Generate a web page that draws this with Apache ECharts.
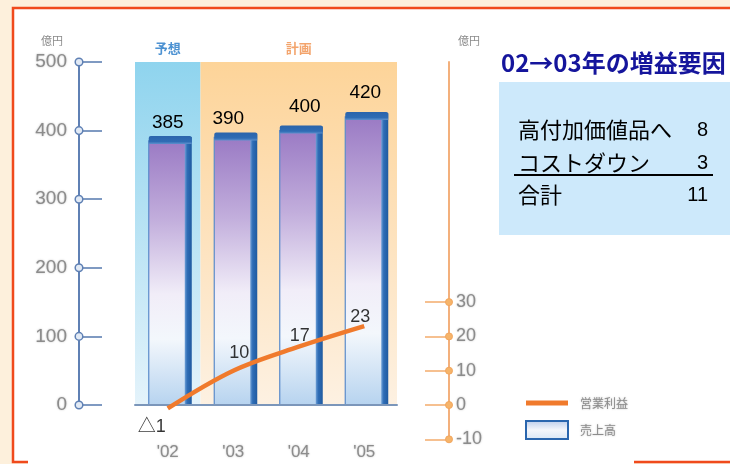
<!DOCTYPE html>
<html>
<head>
<meta charset="utf-8">
<script src="https://cdn.jsdelivr.net/npm/echarts@6/dist/echarts.min.js"></script>
<style>
  html, body { margin: 0; padding: 0; background: #fdf0dc; }
  #main { width: 730px; height: 464px; }
</style>
</head>
<body>
<div id="main"></div>
<script>
// Fiscal years on the category axis
const years = ["'02", "'03", "'04", "'05"];
// 売上高 (億円), left axis
const sales = [385, 390, 400, 420];
// 営業利益 (億円), right axis
const profit = [-1, 10, 17, 23];
// Tick values of both value axes
const salesTicks = [0, 100, 200, 300, 400, 500];
const profitTicks = [-10, 0, 10, 20, 30];
// Forecast / plan bands over the categories
const phases = [
  { name: '予想', from: 0, to: 0 },
  { name: '計画', from: 1, to: 3 }
];
// Breakdown of the 02→03 profit increase
const factorTitle = '02→03年の増益要因';
const factorNames = ['高付加価値品へ', 'コストダウン'];
const factorValues = [8, 3];
const totalName = '合計';
const totalValue = 11;

// Label nudges (style only)
const salesLabelShift = [[0, 0], [-5, 0], [6, -5], [1, -6]];
const profitLabelPos = [
  { position: 'bottom', offset: [-16, 5] },
  { position: 'top', offset: [6, -4] },
  { position: 'top', offset: [1, 3] },
  { position: 'top', offset: [-4, 5] }
];

const FONT = "'Liberation Sans', 'Noto Sans CJK JP', sans-serif";
const CJK = "'Noto Sans CJK JP', sans-serif";
const softGrey = { color: '#8c8c8c', textShadowColor: 'rgba(140,140,140,0.6)', textShadowBlur: 2 };
const ORANGE = '#f07a2c';
const DARK_BLUE = '#2a66ae';

const chart = echarts.init(document.getElementById('main'), null, { renderer: 'canvas' });

const barFill = new echarts.graphic.LinearGradient(0, 0, 0, 1, [
  { offset: 0, color: '#9a7ac4' },
  { offset: 0.3, color: '#c2aedc' },
  { offset: 0.58, color: '#f1edf8' },
  { offset: 0.75, color: '#f3f7fc' },
  { offset: 1, color: '#b6d3ef' }
]);
const edgeFill = new echarts.graphic.LinearGradient(0, 0, 1, 0, [
  { offset: 0, color: '#6d9fd6' },
  { offset: 0.35, color: '#2f6db6' },
  { offset: 1, color: '#1f5aa0' }
]);
const capFill = new echarts.graphic.LinearGradient(0, 0, 0, 1, [
  { offset: 0, color: '#2b64ab' },
  { offset: 0.7, color: '#2f6cb4' },
  { offset: 1, color: '#5b8fcc' }
]);

const profitFormat = p => (p.value < 0 ? '△' + Math.abs(p.value) : String(p.value));

// Sales column: gradient body with a dark cap and right edge, value on top
function renderSalesBar(params, api) {
  const idx = api.value(0);
  const val = api.value(1);
  const top = api.coord([idx, val]);
  const base = api.coord([idx, 0]);
  const c = top[0];
  const h = base[1] - top[1];
  const shift = salesLabelShift[params.dataIndex];
  return {
    type: 'group',
    children: [
      { type: 'rect', shape: { x: c - 19, y: top[1], width: 38, height: h },
        style: { fill: barFill, stroke: '#5a8bcb', lineWidth: 1.2 } },
      { type: 'rect', shape: { x: c + 17, y: top[1] - 4, width: 7, height: h + 4 },
        style: { fill: edgeFill } },
      { type: 'rect', shape: { x: c - 19, y: top[1] - 5, width: 43, height: 8, r: [2, 2, 0, 0] },
        style: { fill: capFill } },
      { type: 'text', x: c + shift[0], y: top[1] - 9 + shift[1],
        style: { text: String(val), fill: '#000', font: '19px ' + FONT, textAlign: 'center', textVerticalAlign: 'bottom' } }
    ]
  };
}

chart.setOption({
  animation: false,
  textStyle: { fontFamily: FONT },
  grid: [
    { left: 135, right: 333, top: 62, height: 343 },
    { left: 135, right: 333, top: 62, height: 377.3 }
  ],
  legend: {
    orient: 'vertical',
    left: 520,
    top: 392,
    itemWidth: 42,
    itemHeight: 18,
    itemGap: 11,
    data: [
      { name: '営業利益', icon: 'path://M0,0L42,0L42,5L0,5Z' },
      { name: '売上高', icon: 'rect',
        itemStyle: {
          color: new echarts.graphic.LinearGradient(0, 0, 0, 1, [
            { offset: 0, color: '#b9cbea' }, { offset: 0.5, color: '#f4f6fb' }, { offset: 1, color: '#d7e6f6' }
          ]),
          borderColor: DARK_BLUE, borderWidth: 2
        } }
    ],
    textStyle: Object.assign({ fontSize: 12, fontFamily: CJK, padding: [0, 0, 0, 7] }, softGrey)
  },
  xAxis: [
    {
      gridIndex: 0, type: 'category', data: years,
      axisLine: { lineStyle: { color: '#7b96ba', width: 2 } },
      axisTick: { show: false },
      axisLabel: Object.assign({ margin: 39, fontSize: 17 }, softGrey),
      z: 3
    },
    { gridIndex: 1, type: 'category', data: years, show: false }
  ],
  yAxis: [
    {
      gridIndex: 0, type: 'value', min: 0, max: 500, interval: 100,
      position: 'left', offset: 56,
      axisLine: { show: true, lineStyle: { color: '#5f80b4', width: 2 } },
      axisTick: { show: true, inside: true, length: 23, lineStyle: { color: '#7f9ac2', width: 2 } },
      axisLabel: Object.assign({ margin: 12, fontSize: 19 }, softGrey),
      splitLine: { show: false }
    },
    {
      gridIndex: 1, type: 'value', min: -10, max: 100, interval: 10,
      position: 'right', offset: 52,
      axisLine: { show: true, lineStyle: { color: '#f3b07c', width: 2 } },
      axisTick: { show: true, inside: true, length: 24, customValues: profitTicks, lineStyle: { color: '#f6c090', width: 2 } },
      axisLabel: Object.assign({ margin: 7, fontSize: 18, customValues: profitTicks }, softGrey),
      splitLine: { show: false }
    }
  ],
  series: [
    {
      name: '売上高', type: 'custom', xAxisIndex: 0, yAxisIndex: 0,
      data: sales.map((v, i) => [i, v]),
      encode: { x: 0, y: 1 },
      renderItem: renderSalesBar,
      itemStyle: { color: '#9a7ac4' },
      z: 2
    },
    {
      name: '営業利益', type: 'line', xAxisIndex: 1, yAxisIndex: 1,
      data: profit,
      smooth: 0.35, symbol: 'none', clip: false,
      lineStyle: { color: ORANGE, width: 4.5 },
      itemStyle: { color: ORANGE },
      z: 5
    },
    {
      // value labels of the profit line
      name: '営業利益ラベル', type: 'scatter', xAxisIndex: 1, yAxisIndex: 1,
      data: profit.map((v, i) => ({ value: v, label: profitLabelPos[i] })),
      symbolSize: 0, silent: true,
      label: { show: true, color: '#000', fontSize: 18, formatter: profitFormat },
      z: 6
    }
  ]
});

// Positions derived from the axes
const cx = i => chart.convertToPixel({ xAxisIndex: 0 }, years[i]);
const band = cx(1) - cx(0);
const ySales = v => chart.convertToPixel({ yAxisIndex: 0 }, v);
const yProfit = v => chart.convertToPixel({ yAxisIndex: 1 }, v);
const plotTop = ySales(salesTicks[salesTicks.length - 1]);
const plotBottom = ySales(0);
const leftAxisX = 135 - 56;
const rightAxisX = 730 - 333 + 52;

const phaseStyles = [
  { top: '#8fd4ee', mid: '#b9e3f4', bottom: '#e4f3fb', text: '#4d92d2' },
  { top: '#fdd499', mid: '#fde2bd', bottom: '#fdf1e2', text: '#f3a46c' }
];

const graphics = [];

// White card with red frame
graphics.push({
  type: 'rect', z: -30, silent: true,
  shape: { x: 13, y: 8, width: 740, height: 454 },
  style: { fill: '#ffffff', stroke: '#f04a1c', lineWidth: 2.5 }
});
graphics.push({
  type: 'rect', z: -29, silent: true,
  shape: { x: 28, y: 456, width: 606, height: 10 },
  style: { fill: '#ffffff' }
});

// Forecast / plan background bands with headers
phases.forEach((ph, k) => {
  const st = phaseStyles[k];
  const x0 = cx(ph.from) - band / 2;
  const x1 = cx(ph.to) + band / 2;
  graphics.push({
    type: 'rect', z: -20, silent: true,
    shape: { x: x0, y: plotTop, width: x1 - x0, height: plotBottom - plotTop },
    style: {
      fill: new echarts.graphic.LinearGradient(0, 0, 0, 1, [
        { offset: 0, color: st.top },
        { offset: 0.5, color: st.mid },
        { offset: 1, color: st.bottom }
      ])
    }
  });
  graphics.push({
    type: 'text', z: 10, silent: true,
    x: (x0 + x1) / 2, y: 48,
    style: {
      text: ph.name, fill: st.text, font: 'bold 13px ' + CJK,
      textAlign: 'center', textVerticalAlign: 'middle'
    }
  });
});

// Axis unit names
[leftAxisX - 27, rightAxisX + 20].forEach(x => {
  graphics.push({
    type: 'text', z: 10, silent: true, x: x, y: 41,
    style: { text: '億円', fill: '#8a8a8a', font: '11px ' + CJK, textAlign: 'center', textVerticalAlign: 'middle' }
  });
});

// Tick knobs on both axes
salesTicks.forEach(v => {
  graphics.push({
    type: 'circle', z: 10, silent: true,
    shape: { cx: leftAxisX, cy: ySales(v), r: 3.8 },
    style: { fill: '#e2eaf5', stroke: '#5f80b4', lineWidth: 1.5 }
  });
});
profitTicks.forEach(v => {
  graphics.push({
    type: 'circle', z: 10, silent: true,
    shape: { cx: rightAxisX, cy: yProfit(v), r: 3.5 },
    style: { fill: '#f6b46a', stroke: '#f2a65e', lineWidth: 1 }
  });
});

// Breakdown panel
graphics.push({
  type: 'text', z: 10, silent: true, x: 501, y: 63,
  style: { text: factorTitle, fill: '#15159c', font: 'bold 24px ' + CJK, textVerticalAlign: 'middle' }
});
graphics.push({
  type: 'rect', z: 5, silent: true,
  shape: { x: 499, y: 82, width: 240, height: 153 },
  style: { fill: '#cde9fb' }
});
const rowY = [130, 163];
factorNames.forEach((name, i) => {
  graphics.push({
    type: 'text', z: 10, silent: true, x: 518, y: rowY[i],
    style: { text: name, fill: '#000', font: '22px ' + CJK, textVerticalAlign: 'middle' }
  });
  graphics.push({
    type: 'text', z: 10, silent: true, x: 708, y: rowY[i],
    style: { text: String(factorValues[i]), fill: '#000', font: '20px ' + FONT, textAlign: 'right', textVerticalAlign: 'middle' }
  });
});
graphics.push({
  type: 'line', z: 10, silent: true,
  shape: { x1: 514, y1: 175, x2: 713, y2: 175 },
  style: { stroke: '#000', lineWidth: 2 }
});
graphics.push({
  type: 'text', z: 10, silent: true, x: 518, y: 195,
  style: { text: totalName, fill: '#000', font: '22px ' + CJK, textVerticalAlign: 'middle' }
});
graphics.push({
  type: 'text', z: 10, silent: true, x: 708, y: 195,
  style: { text: String(totalValue), fill: '#000', font: '20px ' + FONT, textAlign: 'right', textVerticalAlign: 'middle' }
});

chart.setOption({ graphic: { elements: graphics } });
</script>
</body>
</html>
